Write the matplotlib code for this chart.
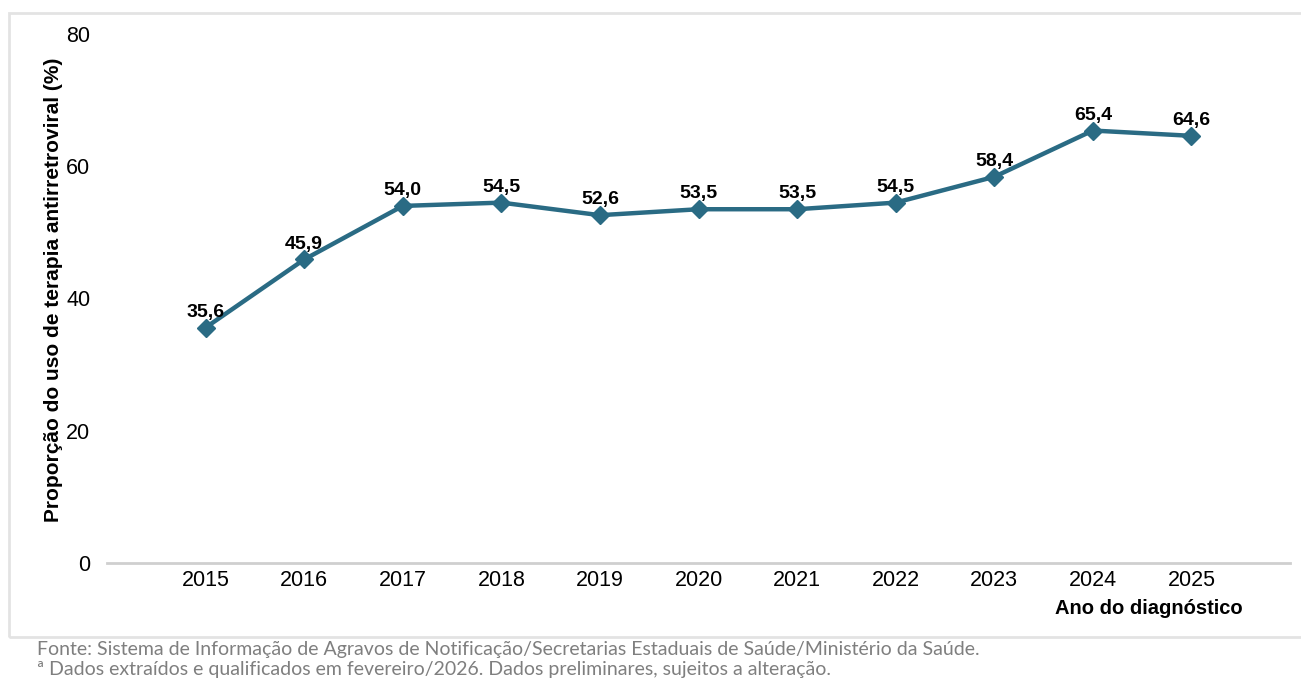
import matplotlib.pyplot as plt
from matplotlib.patches import Rectangle

years = ['2015', '2016', '2017', '2018', '2019', '2020', '2021', '2022', '2023', '2024', '2025']
values = [35.6, 45.9, 54.0, 54.5, 52.6, 53.5, 53.5, 54.5, 58.4, 65.4, 64.6]
y_ticks = [0, 20, 40, 60, 80]

line_color = '#2a6b84'
plt.rcParams['font.family'] = ['Liberation Sans', 'DejaVu Sans']

fig = plt.figure(figsize=(13.01, 6.78), dpi=100)
ax = fig.add_axes([107 / 1301, 1 - 563 / 678, (1290 - 107) / 1301, (563 - 34) / 678])

# light frame around the chart area
fig.patches.append(Rectangle((9 / 1301, 1 - 637 / 678), 1.2, (637 - 13) / 678,
                             transform=fig.transFigure, fill=False,
                             edgecolor='#e3e3e3', linewidth=2))

x = list(range(len(years)))
ax.plot(x, values, color=line_color, linewidth=3.2, marker='D', markersize=9,
        zorder=3)
for xi, v in zip(x, values):
    ax.annotate(f'{v:.1f}'.replace('.', ','), (xi, v), xytext=(0, 5),
                textcoords='offset points', ha='center', va='bottom',
                fontsize=14, fontweight='bold')

ax.set_xlim(-1, len(years))
ax.set_ylim(0, 80)
ax.set_yticks(y_ticks)
ax.set_xticks(x)
ax.set_xticklabels(years)
ax.tick_params(axis='both', length=0, labelsize=15.5)
ax.tick_params(axis='y', pad=12)
ax.tick_params(axis='x', pad=5)

for side in ['top', 'right', 'left']:
    ax.spines[side].set_visible(False)
ax.spines['bottom'].set_color('#cfcfcf')
ax.spines['bottom'].set_linewidth(2)

ax.set_ylabel('Proporção do uso de terapia antirretroviral (%)', fontsize=15,
              fontweight='bold')
ax.yaxis.set_label_coords(63 / 1301, 1 - 290 / 678, transform=fig.transFigure)
fig.text(1243 / 1301, 1 - 608 / 678, 'Ano do diagnóstico', ha='right',
         va='center', fontsize=14.5, fontweight='bold')

note_font = dict(family=['Lato', 'DejaVu Sans'], color='#7f7f7f', fontsize=14)
fig.text(37 / 1301, 1 - 649 / 678,
         'Fonte: Sistema de Informação de Agravos de Notificação/Secretarias '
         'Estaduais de Saúde/Ministério da Saúde.', va='center', **note_font)
fig.text(37 / 1301, 1 - 669 / 678,
         'ª Dados extraídos e qualificados em fevereiro/2026. Dados preliminares, '
         'sujeitos a alteração.', va='center', **note_font)

fig.savefig('out.png', dpi=100)
